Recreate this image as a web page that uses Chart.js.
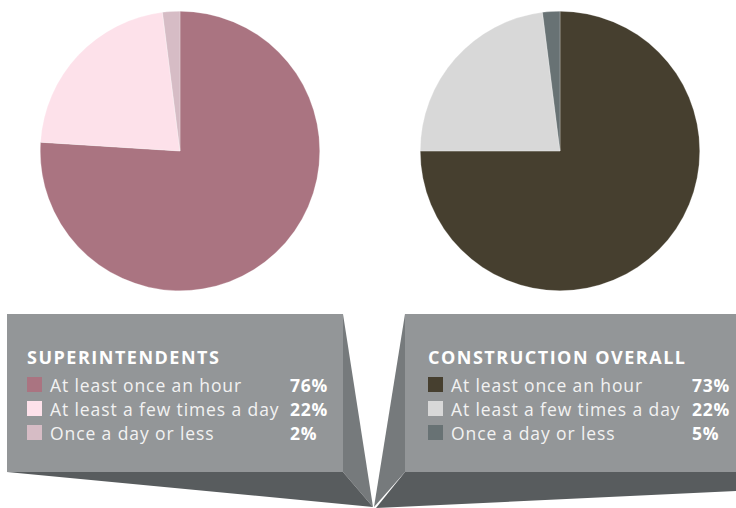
<!doctype html>
<html lang="en">

<head>
    <meta charset="utf-8">
    <title>Pie charts</title>
    <script src="https://cdn.jsdelivr.net/npm/chart.js@4.4.0/dist/chart.umd.min.js"></script>
    <style>
        body { margin: 0; background: #fff; }
        #wrap { position: relative; width: 736px; height: 508px; overflow: hidden; font-family: "Open Sans", sans-serif; }
        #bg { position: absolute; left: 0; top: 0; }
        .pie { position: absolute; top: 11px; width: 280px; height: 280px; }
        .legend { position: absolute; top: 344px; color: #f2f2f2; }
        .legend h3 { margin: 0 0 3px 0; font-size: 18px; font-weight: 700; letter-spacing: 1.5px; color: #fff; line-height: 26px; }
        .row { position: relative; height: 24px; line-height: 24px; font-size: 17.5px; white-space: nowrap; }
        .sw { position: absolute; left: 0; top: 4px; width: 15px; height: 15px; }
        .lab { position: absolute; left: 23px; letter-spacing: 0.9px; }
        .pct { position: absolute; font-weight: 700; color: #fff; letter-spacing: 0.8px; }
    </style>
</head>

<body>
    <div id="wrap">
        <svg id="bg" width="736" height="508">
            <!-- left panel -->
            <polygon points="7,314 343,314 343,472 7,472" fill="#939698" />
            <polygon points="343,314 373,507 343,472" fill="#767a7c" />
            <polygon points="7,472 343,472 373,507" fill="#585c5e" />
            <!-- right panel -->
            <polygon points="405,314 736,314 736,472 405,472" fill="#939698" />
            <polygon points="405,314 405,472 374,507" fill="#767a7c" />
            <polygon points="405,472 736,472 736,491 376,508" fill="#585c5e" />
        </svg>
        <div class="pie" style="left:40px"><canvas id="pie1"></canvas></div>
        <div class="pie" style="left:420px"><canvas id="pie2"></canvas></div>
        <div class="legend" id="leg1" style="left:27px"></div>
        <div class="legend" id="leg2" style="left:428px"></div>
    </div>

<script>
    // categories
    let labels = ["At least once an hour", "At least a few times a day", "Once a day or less"];

    // slice sizes as drawn in the picture
    let superData = [76, 22, 2];
    let overallData = [75, 23, 2];

    // percentages printed in the legends
    let superPct = ["76%", "22%", "2%"];
    let overallPct = ["73%", "22%", "5%"];

    let superColors = ["#aa7481", "#fde1ea", "#d6bcc5"];
    let overallColors = ["#463f2f", "#d8d8d8", "#687274"];

    let make_pie = (id, data, colors) => {
        new Chart(document.getElementById(id), {
            type: 'pie',
            data: {
                labels: labels,
                datasets: [{
                    data: data,
                    backgroundColor: colors,
                    borderColor: 'rgba(255,255,255,0.5)',
                    borderWidth: 0.5
                }]
            },
            options: {
                responsive: true,
                maintainAspectRatio: false,
                animation: false,
                plugins: { legend: { display: false }, tooltip: { enabled: false } }
            }
        });
    }

    let make_legend = (id, title, pct, colors, pctX) => {
        let el = document.getElementById(id);
        let html = '<h3>' + title + '</h3>';
        for (let i in labels) {
            html += '<div class="row"><span class="sw" style="background:' + colors[i] + '"></span>' +
                '<span class="lab">' + labels[i] + '</span>' +
                '<span class="pct">' + pct[i] + '</span></div>';
        }
        el.innerHTML = html;
        // percentages line up, but never run into a long label
        el.querySelectorAll('.row').forEach(row => {
            let lab = row.querySelector('.lab');
            let end = lab.offsetLeft + lab.offsetWidth + 5;
            row.querySelector('.pct').style.left = Math.max(pctX, end) + 'px';
        });
    }

    make_pie("pie1", superData, superColors);
    make_pie("pie2", overallData, overallColors);
    make_legend("leg1", "SUPERINTENDENTS", superPct, superColors, 263);
    make_legend("leg2", "CONSTRUCTION OVERALL", overallPct, overallColors, 264);
</script>
</body>

</html>
